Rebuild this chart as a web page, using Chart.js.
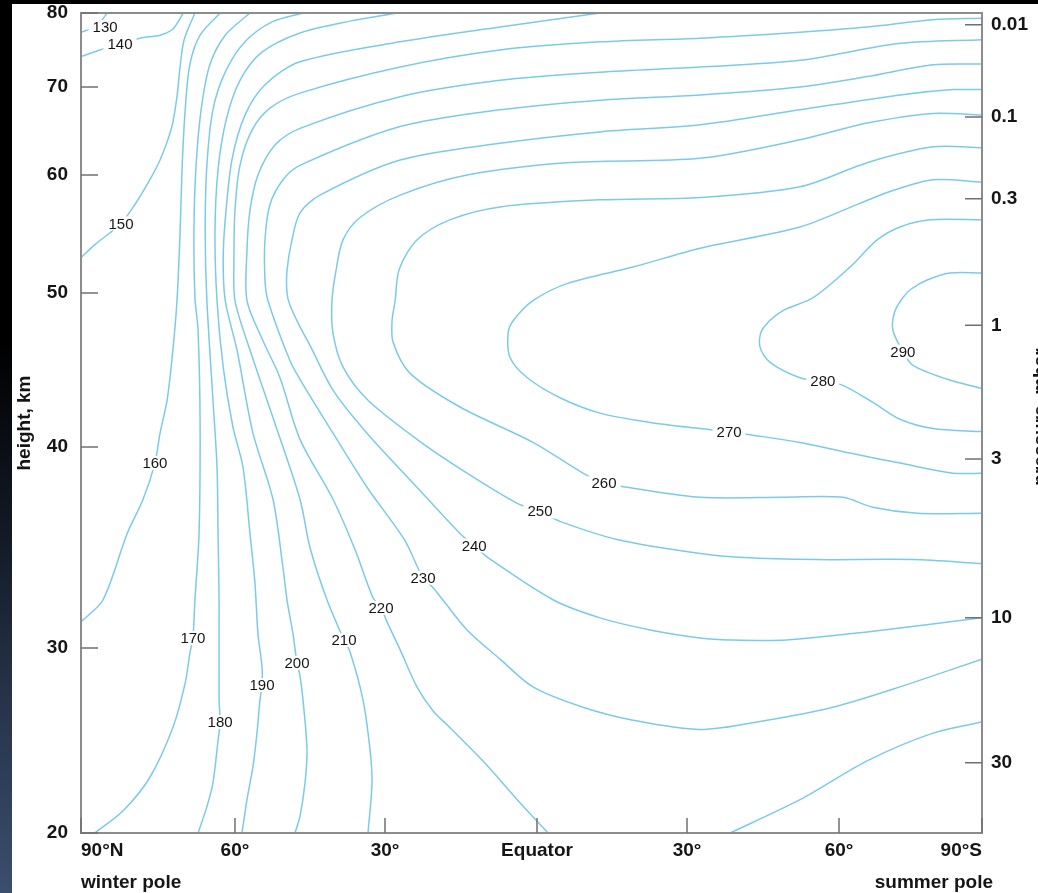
<!DOCTYPE html>
<html>
<head>
<meta charset="utf-8">
<script src="https://cdn.jsdelivr.net/npm/chart.js@4.4.0/dist/chart.umd.min.js"></script>
<style>
  html, body { margin: 0; padding: 0; }
  body { width: 1038px; height: 893px; background: #000; position: relative; overflow: hidden; }
  #strip { position: absolute; left: 0; top: 0; width: 12px; height: 893px;
    background: linear-gradient(to bottom, #000 0%, #000 38%, #131a26 60%, #2a3850 82%, #3b4e6c 100%); }
  #wrap { position: absolute; left: 12px; top: 4px; width: 1026px; height: 889px; background: #fff; }
</style>
</head>
<body>
<div id="strip"></div>
<div id="wrap"><canvas id="chart"></canvas></div>
<script>
// contour lines, temperature in K: [latitude (N +, S -), height km]
const t130 = [[90,77.4],[87.7,78.0],[86.1,78.9],[84.9,80]];
const t140 = [[90,74.1],[86.3,75.0],[82.4,75.8],[78.5,76.6],[74.6,77.0],[72.3,77.7],[71.1,78.8],[70.1,80]];
const t150 = [[90,53.0],[87.3,54.1],[82.2,55.9],[79.5,57.5],[77.1,59.2],[74.6,61.7],[72.3,65.5],[71.3,68.9],[70.7,72.7],[69.9,76.4],[67.8,80]];
const t160 = [[90,31.3],[85.7,32.4],[81.0,35.7],[77.9,37.4],[75.6,39.2],[74.6,40.9],[73.2,43.1],[72.1,46.3],[71.3,49.5],[70.7,55.1],[70.3,60.9],[69.7,67.4],[68.8,73.0],[66.8,77.0],[62.9,80]];
const t170 = [[87.3,20],[81.8,21.2],[76.6,23.0],[72.1,25.7],[69.7,28.1],[68.8,29.7],[68.2,30.5],[67.8,32.4],[67.0,35.7],[66.8,41.7],[67.2,47.6],[67.8,49.7],[68.0,55.1],[67.6,60.9],[66.6,67.4],[64.9,73.0],[61.9,77.0],[57,80]];
const t180 = [[67.2,20],[65.5,21.4],[64.3,22.7],[63.3,25.0],[62.9,26.0],[63.1,27.2],[63.1,32.4],[63.3,35.7],[63.5,39.0],[64.3,43.1],[65.5,49.7],[65.8,55.1],[65.5,60.9],[64.3,67.4],[61.9,72.0],[58,76.1],[52.6,78.8],[46.4,80]];
const t190 = [[58.6,20],[57.6,21.8],[56.4,23.6],[55.6,25.4],[55,27.2],[54.6,28.0],[54.6,29.0],[55.4,30.7],[56,33.2],[57,35.7],[58.4,39.0],[60.4,41.3],[62.3,45.2],[63.5,49.5],[63.9,55.1],[63.3,60.6],[61.7,66.3],[59,70.9],[54.6,74.7],[47,77.3],[37,78.9],[27.6,80]];
const t200 = [[48,20],[47,20.9],[46,22.7],[45.6,24.5],[46.4,27.2],[47,28.5],[47.6,29.2],[48.4,30.7],[49.6,32.4],[50.4,34.0],[52.4,37.4],[56.4,40.9],[59.6,46.3],[61.9,49.5],[62.3,52.8],[61.9,56.2],[60.6,61.7],[58,66.8],[54,70.3],[47,73.4],[27,76.1],[7.3,78.1],[-12.6,80]];
const t210 = [[33.4,20],[32.6,22.7],[33,24.5],[34.4,27.2],[37,29.8],[38.2,30.4],[41.6,32.4],[45,35.0],[47,37.4],[52.4,41.9],[57,46.3],[60,49.5],[60.2,52.8],[60,57.0],[59,61.1],[56.6,65.1],[53,67.6],[47,69.3],[27,72.7],[7.3,75.0],[-12.6,76.1],[-32.6,76.6],[-52.3,77.4],[-65.9,78.1],[-79.7,79.1],[-90,79.3]];
const t220 = [[-2.2,20],[3.9,21.8],[10.7,23.9],[17.2,25.7],[20.5,26.6],[23.7,27.9],[27,29.9],[29.6,31.3],[30.8,32.0],[32.4,32.5],[36,34.9],[40.4,37.4],[47,40.5],[51,44.5],[54.4,46.9],[57.6,49.5],[57.6,53.6],[57,57.0],[55.4,60.0],[52,63.4],[47,65.3],[27,68.9],[7.3,70.9],[-12.6,72.0],[-32.6,72.7],[-52.3,73.6],[-72.8,75.9],[-90,76.4]];
const t230 = [[-90,29.4],[-72.8,27.9],[-58.8,26.8],[-45.8,26.1],[-32.6,25.6],[-19.2,26.1],[-9.2,26.8],[0.8,27.9],[7.3,29.4],[13.8,30.9],[18.6,32.4],[20.5,33.0],[22.5,33.5],[26.2,35.4],[33.6,38.0],[40.4,40.9],[47,44.4],[49,45.6],[53.4,49.5],[54,51.1],[54,54.5],[53,57.5],[50.4,59.6],[47,61.1],[27,65.5],[7.3,67.4],[-12.6,68.5],[-32.6,69.1],[-52.3,70.0],[-65.9,71.4],[-79.7,73.0],[-90,73.1]];
const t240 = [[-90,31.5],[-65.9,30.8],[-49.7,30.4],[-38.5,30.4],[-32.6,30.5],[-22.6,30.9],[-12.6,31.5],[-3.2,32.4],[9.7,34.5],[12.4,35.1],[15.2,35.7],[23.7,38.0],[33.6,40.9],[40.4,43.7],[45,46.6],[47,47.8],[49,49.2],[49.6,50.0],[49.6,51.9],[48.6,54.5],[47,56.8],[43,58.3],[27,61.7],[7.3,63.6],[-12.6,64.9],[-32.6,65.7],[-52.3,67.4],[-72.8,69.1],[-83.9,69.7],[-90,69.7]];
const t250 = [[-90,34.2],[-75.5,34.4],[-55.7,34.4],[-41.1,34.5],[-32.6,34.7],[-16,35.4],[-4.6,36.3],[-0.6,36.8],[3.9,37.2],[13.8,38.7],[23.7,40.5],[33.6,43.1],[38.4,45.2],[40.4,47.4],[40.6,49.5],[39.8,51.9],[38.4,54.5],[35,56.4],[27,58.3],[13.8,60.0],[-6,61.4],[-32.6,61.9],[-52.3,64.0],[-65.9,65.9],[-79.7,67.0],[-90,66.8]];
const t260 = [[-90,36.7],[-76.4,36.7],[-67.1,37.0],[-60.8,37.5],[-48.9,37.5],[-32.6,37.5],[-18,38.0],[-13.4,38.2],[-9.2,38.7],[0.8,40.3],[15.2,42.6],[25.1,44.8],[28.4,46.8],[28.6,48.2],[28,49.5],[27.2,52.0],[23.7,54.5],[17.2,56.2],[7.3,57.3],[-12.6,57.9],[-32.6,58.1],[-52.3,59.0],[-65.9,61.4],[-79.7,63.2],[-90,63.1]];
const t270 = [[-90,38.7],[-83.9,38.7],[-72.8,39.2],[-62.3,39.7],[-52.3,40.3],[-42.4,40.8],[-38.3,41.0],[-32.6,41.2],[-22.6,41.6],[-12.6,42.2],[-4.6,43.2],[1.9,44.5],[5.3,45.8],[5.7,47.4],[4.7,48.2],[0.8,49.5],[-6,50.8],[-19.2,52.2],[-32.6,53.8],[-52.3,55.6],[-64.4,57.6],[-70.7,58.6],[-79.7,59.6],[-90,59.4]];
const t280 = [[-90,56.2],[-79.1,56.2],[-72.8,55.6],[-68,54.5],[-62.3,52.2],[-54.9,49.7],[-48.6,48.8],[-44.8,47.6],[-44.4,46.5],[-46.4,45.5],[-52.3,44.5],[-56.8,44.3],[-60.8,44.0],[-67.1,42.9],[-72.8,41.8],[-79.7,41.2],[-90,41.0]];
const t290 = [[-90,51.7],[-83.3,51.7],[-78.5,51.1],[-75,50.3],[-73.4,49.7],[-71.7,48.8],[-71.3,47.6],[-73.4,46.2],[-75.5,45.3],[-82.7,44.4],[-90,43.8]];
const t220south = [[-38.5,20],[-52.3,21.8],[-65.9,23.9],[-79.7,25.4],[-90,26.0]];

// in-line contour labels
const labelLevels = [130, 140, 150, 160, 170, 180, 190, 200, 210, 220, 230, 240, 250, 260, 270, 280, 290];
const labelLat = [85.3, 82.4, 82.2, 75.6, 68.2, 62.9, 54.6, 47.6, 38.2, 30.8, 22.5, 12.4, -0.6, -13.4, -38.3, -56.8, -73.4];
const labelKm = [78.1, 75.8, 55.9, 39.2, 30.5, 26.0, 28.0, 29.2, 30.4, 32.0, 33.5, 35.1, 36.8, 38.2, 41.0, 44.3, 46.2];

// axes
const heightTicks = [20, 30, 40, 50, 60, 70, 80];
const latTicks = [90, 60, 30, 0, -30, -60, -90];
const latLabels = ['90°N', '60°', '30°', 'Equator', '30°', '60°', '90°S'];
const pressureLabels = ['0.01', '0.1', '0.3', '1', '3', '10', '30'];
const pressureKm = [78.4, 66.6, 58.0, 47.9, 39.4, 31.5, 23.8];

// the original drawing is not evenly spaced: tick value -> fraction of the axis
const latWarp = { vals: [90, 60, 30, 0, -30, -60, -90], pos: [0, 0.1709, 0.3374, 0.5061, 0.6726, 0.8413, 1] };
const kmWarp = { vals: [20, 30, 40, 50, 60, 70, 80], pos: [0, 0.2256, 0.4707, 0.6585, 0.8024, 0.9098, 1] };

function interp(v, from, to) {
  const n = from.length;
  let i = 0;
  for (; i < n - 2; i++) {
    if ((v - from[i]) * (v - from[i + 1]) <= 0) break;
  }
  return to[i] + (v - from[i]) / (from[i + 1] - from[i]) * (to[i + 1] - to[i]);
}

class WarpScale extends Chart.LinearScale {
  warp() { return this.isHorizontal() ? latWarp : kmWarp; }
  getPixelForValue(v) {
    if (v === null || v === undefined || isNaN(v)) return NaN;
    const f = interp(v, this.warp().vals, this.warp().pos);
    return this.isHorizontal() ? this.left + f * this.width : this.bottom - f * this.height;
  }
  getValueForPixel(p) {
    const f = this.isHorizontal() ? (p - this.left) / this.width : (this.bottom - p) / this.height;
    return interp(f, this.warp().pos, this.warp().vals);
  }
}
WarpScale.id = 'warp';
WarpScale.defaults = Chart.LinearScale.defaults;
Chart.register(WarpScale);

const lineBlue = '#7ccbe6';
const ink = '#151515';
const family = '"Liberation Sans", Arial, Helvetica, sans-serif';
const axisFont = { family, size: 19, weight: 'bold' };

const contours = [t130, t140, t150, t160, t170, t180, t190, t200, t210, t220, t230, t240, t250, t260, t270, t280, t290, t220south];

const decor = {
  id: 'decor',
  afterDatasetsDraw(chart) {
    const { ctx, chartArea: a, scales } = chart;
    const x = scales.x, y = scales.y, y2 = scales.y2;
    ctx.save();

    // labels sitting on the contour lines
    ctx.font = '15px ' + family;
    ctx.textAlign = 'center';
    ctx.textBaseline = 'middle';
    labelLevels.forEach((lv, i) => {
      const px = x.getPixelForValue(labelLat[i]);
      const py = y.getPixelForValue(labelKm[i]);
      const txt = String(lv);
      const w = ctx.measureText(txt).width + 8;
      ctx.fillStyle = '#fff';
      ctx.fillRect(px - w / 2, py - 7, w, 14);
      ctx.fillStyle = ink;
      ctx.fillText(txt, px, py + 1);
    });

    // frame
    ctx.strokeStyle = '#8c8c8c';
    ctx.lineWidth = 2;
    ctx.strokeRect(a.left, a.top, a.right - a.left, a.bottom - a.top);

    // tick marks pointing inwards
    ctx.strokeStyle = '#707070';
    ctx.lineWidth = 1.5;
    ctx.beginPath();
    y.ticks.forEach((t, i) => { const p = y.getPixelForTick(i); ctx.moveTo(a.left, p); ctx.lineTo(a.left + 17, p); });
    y2.ticks.forEach((t, i) => { const p = y2.getPixelForTick(i); ctx.moveTo(a.right, p); ctx.lineTo(a.right - 17, p); });
    x.ticks.forEach((t, i) => { const p = x.getPixelForTick(i); ctx.moveTo(p, a.bottom); ctx.lineTo(p, a.bottom - 15); });
    ctx.stroke();

    // texts the axes cannot place themselves
    ctx.font = 'bold 19px ' + family;
    ctx.fillStyle = ink;
    ctx.textAlign = 'right';
    ctx.textBaseline = 'middle';
    ctx.fillText('summer pole', a.right + 11, x.bottom - 10);

    ctx.translate(a.right + 64, (a.top + a.bottom) / 2 - 6);
    ctx.rotate(-Math.PI / 2);
    ctx.textAlign = 'center';
    ctx.textBaseline = 'alphabetic';
    ctx.fillText('pressure, mbar', 0, 0);
    ctx.restore();
  }
};

new Chart(document.getElementById('chart'), {
  type: 'scatter',
  data: {
    datasets: contours.map(pts => ({
      data: pts.map(([lat, km]) => ({ x: lat, y: km })),
      showLine: true,
      borderColor: lineBlue,
      borderWidth: 1.5,
      pointRadius: 0,
      pointHoverRadius: 0,
      tension: 0.3,
      fill: false
    }))
  },
  options: {
    responsive: true,
    maintainAspectRatio: false,
    animation: false,
    events: [],
    layout: { padding: { top: 9, left: 0, right: 0, bottom: 0 } },
    plugins: { legend: { display: false }, tooltip: { enabled: false } },
    scales: {
      x: {
        type: 'warp', position: 'bottom', min: -90, max: 90,
        afterBuildTicks: s => { s.ticks = latTicks.map(v => ({ value: v })); },
        afterFit: s => { s.height = 60; s.paddingLeft = 0; s.paddingRight = 0; },
        grid: { display: false, drawTicks: false },
        border: { display: false },
        ticks: { autoSkip: false, maxRotation: 0, minRotation: 0, align: 'inner', padding: 6, color: ink, font: axisFont,
          callback: (v, i) => latLabels[i] },
        title: { display: true, text: 'winter pole', align: 'start', color: ink,
          font: { ...axisFont, lineHeight: 1 }, padding: { top: 0, bottom: 0.5 } }
      },
      y: {
        type: 'warp', position: 'left', min: 20, max: 80,
        afterBuildTicks: s => { s.ticks = heightTicks.map(v => ({ value: v })); },
        afterFit: s => { s.width = 69; s.paddingTop = 0; s.paddingBottom = 0; },
        grid: { display: false, drawTicks: false },
        border: { display: false },
        ticks: { autoSkip: false, padding: 13, color: ink, font: axisFont, callback: v => String(v) },
        title: { display: true, text: 'height, km', color: ink,
          font: { ...axisFont, lineHeight: 1 }, padding: { top: 3, bottom: 0 } }
      },
      y2: {
        type: 'warp', position: 'right', min: 20, max: 80,
        afterBuildTicks: s => { s.ticks = pressureKm.map(v => ({ value: v })); },
        afterFit: s => { s.width = 56; s.paddingTop = 0; s.paddingBottom = 0; },
        grid: { display: false, drawTicks: false },
        border: { display: false },
        ticks: { autoSkip: false, padding: 9, color: ink, font: axisFont, callback: (v, i) => pressureLabels[i] }
      }
    }
  },
  plugins: [decor]
});
</script>
</body>
</html>
